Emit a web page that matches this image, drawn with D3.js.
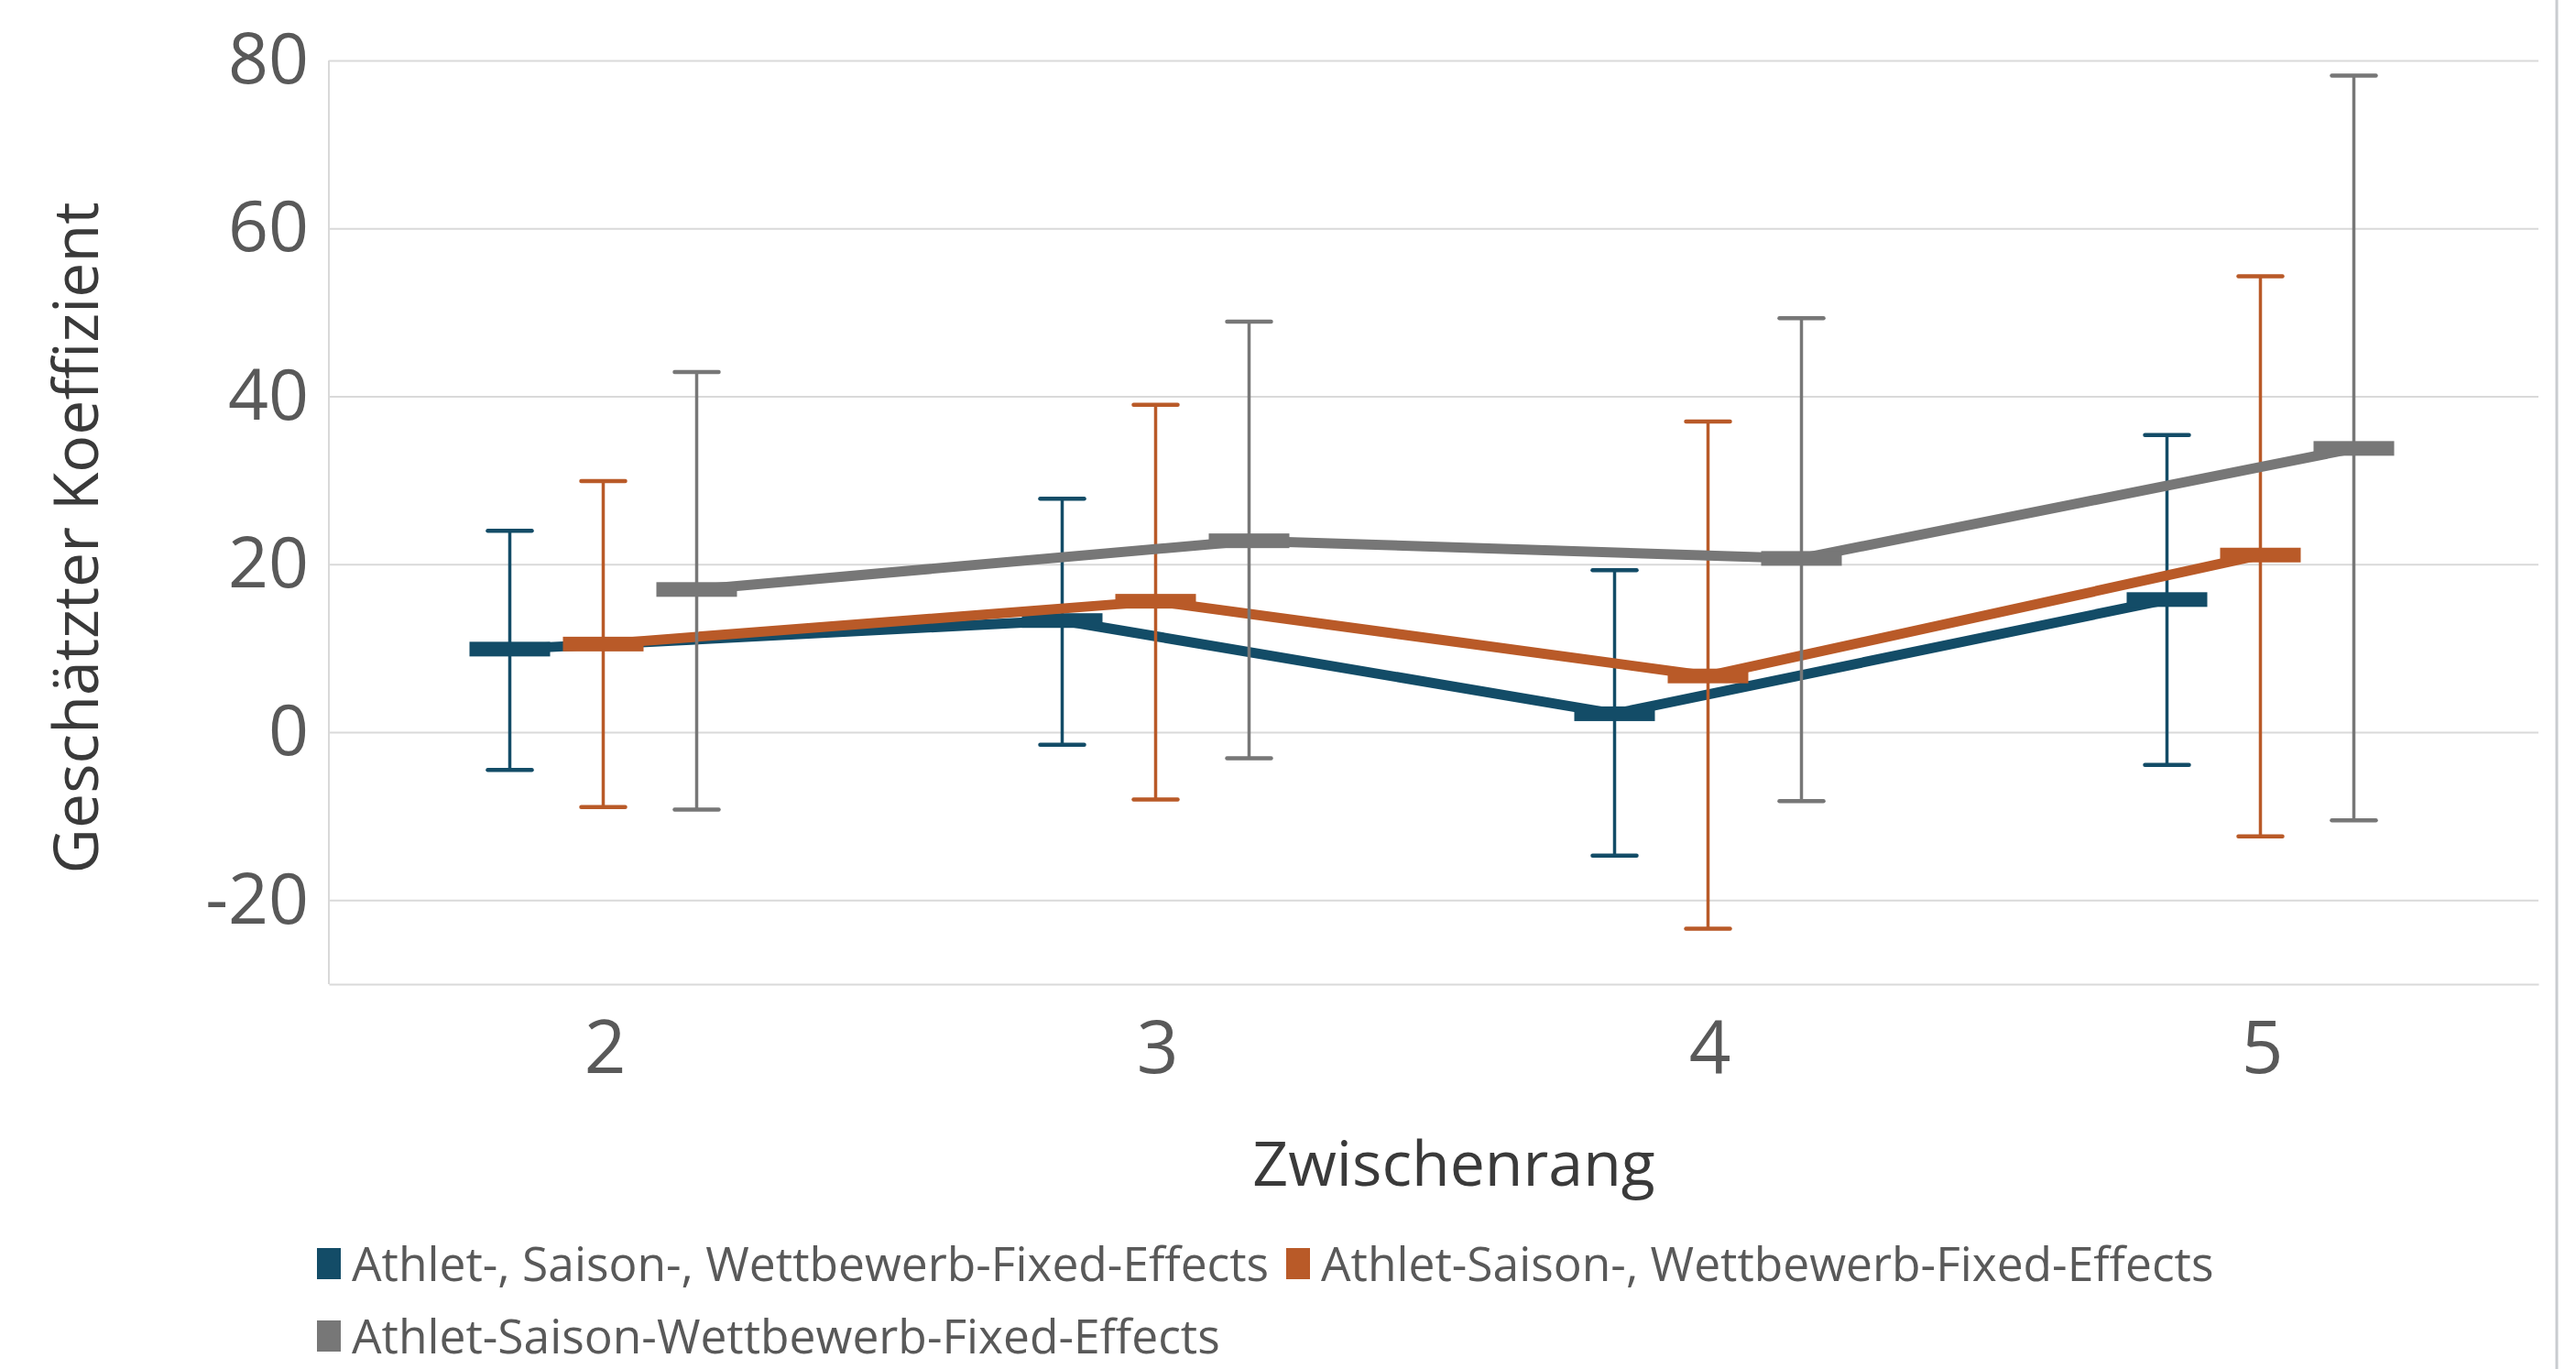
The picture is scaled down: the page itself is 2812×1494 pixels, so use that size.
<!DOCTYPE html>
<html>
<head>
<meta charset="utf-8">
<script src="https://cdn.jsdelivr.net/npm/d3@7"></script>
<style>
  body { margin: 0; background: #fff; }
  svg { display: block; font-family: "Open Sans", "Noto Sans", sans-serif; }
</style>
</head>
<body>
<div id="chart"></div>
<script>
// data
const ranks = ["2", "3", "4", "5"];
const seriesNames = [
  "Athlet-, Saison-, Wettbewerb-Fixed-Effects",
  "Athlet-Saison-, Wettbewerb-Fixed-Effects",
  "Athlet-Saison-Wettbewerb-Fixed-Effects"
];
const seriesColors = ["#134c67", "#b95a28", "#777777"];
const estimates = [
  [9.9, 13.3, 2.2, 15.8],
  [10.5, 15.6, 6.7, 21.1],
  [17.0, 22.8, 20.7, 33.8]
];
const upper = [
  [24.0, 27.8, 19.3, 35.4],
  [29.9, 39.0, 37.0, 54.3],
  [42.9, 48.9, 49.3, 78.2]
];
const lower = [
  [-4.5, -1.5, -14.7, -3.9],
  [-8.9, -8.0, -23.4, -12.4],
  [-9.2, -3.1, -8.2, -10.5]
];
const yTicks = [-20, 0, 20, 40, 60, 80];

const width = 2812, height = 1494;
const margins = { top: 66, bottom: 420, left: 359, right: 41 };

const svg = d3.select("#chart")
  .append("svg")
  .attr("width", width)
  .attr("height", height);

const xScale = d3.scaleBand()
  .domain(ranks)
  .range([margins.left, width - margins.right]);

// each series sits a little left / right of the category centre
const offset = d3.scalePoint()
  .domain(d3.range(seriesNames.length))
  .range([-104, 100]);

const yScale = d3.scaleLinear()
  .domain([-30, 80])
  .range([1074, margins.top]);

// right frame edge
svg.append("line")
  .attr("x1", 2791).attr("x2", 2791)
  .attr("y1", 0).attr("y2", height)
  .attr("stroke", "#c9ccd0")
  .attr("stroke-width", 3);

// gridlines + y labels (plain hyphen for negatives, like the original)
const yAxis = d3.axisLeft(yScale)
  .tickValues(yTicks)
  .tickSize(-(width - margins.left - margins.right))
  .tickPadding(22)
  .tickFormat(d => String(d));

svg.append("g")
  .attr("transform", `translate(${margins.left},0)`)
  .call(yAxis)
  .call(g => g.select(".domain").remove())
  .call(g => g.selectAll(".tick line").attr("stroke", "#d9d9d9").attr("stroke-width", 2))
  .call(g => g.selectAll(".tick text")
    .attr("fill", "#595959")
    .attr("font-size", 77)
    .attr("font-family", "'Open Sans', sans-serif"));

// plot frame: left and bottom
svg.append("line")
  .attr("x1", margins.left).attr("x2", margins.left)
  .attr("y1", yScale(80)).attr("y2", yScale(-30))
  .attr("stroke", "#d9d9d9").attr("stroke-width", 2);

const xAxis = d3.axisBottom(xScale).tickSize(0).tickPadding(40);

svg.append("g")
  .attr("transform", `translate(0,${yScale(-30)})`)
  .call(xAxis)
  .call(g => g.select(".domain").attr("stroke", "#d9d9d9").attr("stroke-width", 2))
  .call(g => g.selectAll(".tick text")
    .attr("fill", "#595959")
    .attr("font-size", 80)
    .attr("font-family", "'Open Sans', sans-serif"));

// axis titles
svg.append("text")
  .attr("x", 1587)
  .attr("y", 1294)
  .attr("text-anchor", "middle")
  .attr("fill", "#3a3a3a")
  .attr("font-size", 68)
  .text("Zwischenrang");

svg.append("text")
  .attr("transform", "translate(107,587) rotate(-90)")
  .attr("text-anchor", "middle")
  .attr("fill", "#3a3a3a")
  .attr("font-size", 68)
  .text("Geschätzter Koeffizient");

// series: line, error bars, markers
const xPos = (s, i) => xScale(ranks[i]) + xScale.bandwidth() / 2 + offset(s);

const line = d3.line()
  .x(d => d.x)
  .y(d => yScale(d.v));

seriesNames.forEach((name, s) => {
  const pts = ranks.map((r, i) => ({
    x: xPos(s, i), v: estimates[s][i], hi: upper[s][i], lo: lower[s][i]
  }));
  const g = svg.append("g").attr("class", "series");

  g.append("path")
    .datum(pts)
    .attr("d", line)
    .attr("fill", "none")
    .attr("stroke", seriesColors[s])
    .attr("stroke-width", 11)
    .attr("stroke-linejoin", "round");

  g.selectAll("line.stem")
    .data(pts)
    .join("line")
    .attr("class", "stem")
    .attr("x1", d => d.x).attr("x2", d => d.x)
    .attr("y1", d => yScale(d.hi)).attr("y2", d => yScale(d.lo))
    .attr("stroke", seriesColors[s])
    .attr("stroke-width", 3.5);

  ["hi", "lo"].forEach(k => {
    g.selectAll(`line.cap-${k}`)
      .data(pts)
      .join("line")
      .attr("class", `cap-${k}`)
      .attr("x1", d => d.x - 24).attr("x2", d => d.x + 24)
      .attr("y1", d => yScale(d[k])).attr("y2", d => yScale(d[k]))
      .attr("stroke", seriesColors[s])
      .attr("stroke-width", 4.5)
      .attr("stroke-linecap", "round");
  });

  g.selectAll("rect.marker")
    .data(pts)
    .join("rect")
    .attr("class", "marker")
    .attr("x", d => d.x - 44)
    .attr("y", d => yScale(d.v) - 8)
    .attr("width", 88)
    .attr("height", 16)
    .attr("fill", seriesColors[s]);
});

// legend
const legendItems = [
  { x: 346, y: 1398 },
  { x: 1404, y: 1398 },
  { x: 346, y: 1477 }
];

const legend = svg.append("g")
  .selectAll("g")
  .data(seriesNames)
  .join("g")
  .attr("transform", (d, i) => `translate(${legendItems[i].x},${legendItems[i].y})`);

legend.append("rect")
  .attr("x", 0).attr("y", -36)
  .attr("width", 26).attr("height", 34)
  .attr("fill", (d, i) => seriesColors[i]);

legend.append("text")
  .attr("x", 38)
  .attr("y", 0)
  .attr("fill", "#595959")
  .attr("font-size", 51.5)
  .text(d => d);
</script>
</body>
</html>
